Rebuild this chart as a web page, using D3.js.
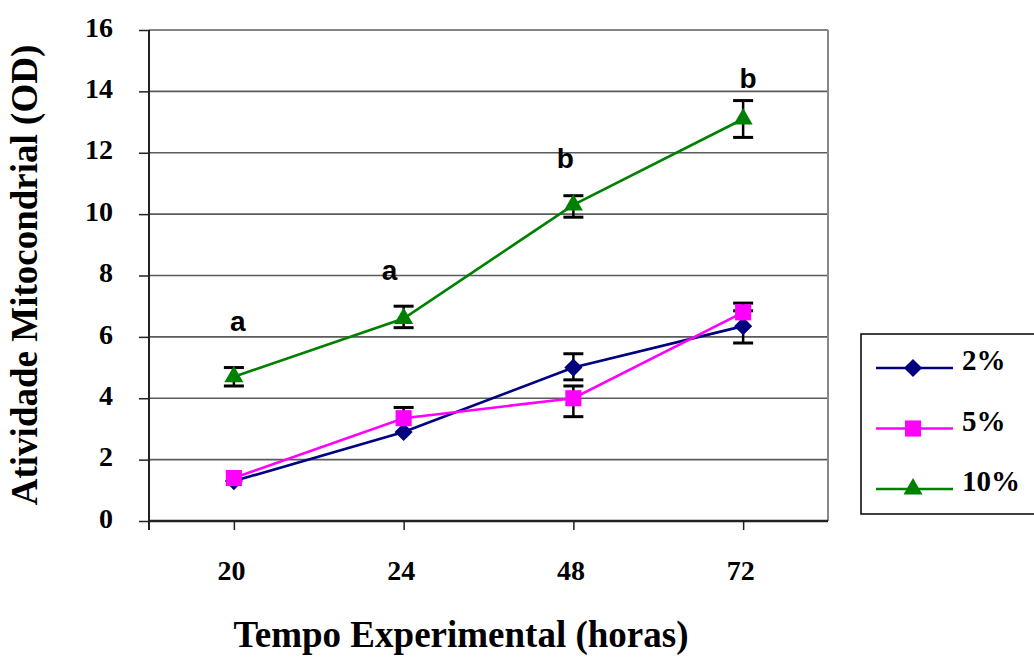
<!DOCTYPE html>
<html>
<head>
<meta charset="utf-8">
<script src="https://cdn.jsdelivr.net/npm/d3@7"></script>
<style>
  body { margin: 0; background: #fff; }
  svg { display: block; }
</style>
</head>
<body>
<div id="chart"></div>
<script>
// data
const categories = ["20", "24", "48", "72"];
const yTicks = [0, 2, 4, 6, 8, 10, 12, 14, 16];
const seriesNames = ["2%", "5%", "10%"];
const val2 = [1.3, 2.9, 5.0, 6.35];
const lo2 = [1.3, 2.9, 4.6, 5.8];
const hi2 = [1.3, 2.9, 5.45, 6.85];
const val5 = [1.4, 3.35, 4.0, 6.8];
const lo5 = [1.4, 3.35, 3.4, 6.8];
const hi5 = [1.4, 3.7, 4.4, 7.1];
const val10 = [4.7, 6.6, 10.3, 13.1];
const lo10 = [4.4, 6.3, 9.9, 12.5];
const hi10 = [5.0, 7.0, 10.6, 13.7];
const letters = ["a", "a", "b", "b"];
const letterVal = [6.2, 7.85, 11.5, 14.1];

const W = 1034, H = 659;
const mLeft = 149, mRight = 828, mTop = 30, mBottom = 521;
const serif = "Liberation Serif";

const svg = d3.select("#chart").append("svg")
  .attr("width", W).attr("height", H);

const x = d3.scalePoint().domain(categories).range([mLeft, mRight]).padding(0.5);
const y = d3.scaleLinear().domain([0, 16]).range([mBottom, mTop]);

// gridlines
svg.append("g").selectAll("line")
  .data(yTicks.filter(d => d > 0))
  .join("line")
  .attr("x1", mLeft).attr("x2", mRight)
  .attr("y1", d => y(d)).attr("y2", d => y(d))
  .attr("stroke", "#5a5a5a").attr("stroke-width", 1.6);

// right border
svg.append("line")
  .attr("x1", mRight).attr("x2", mRight).attr("y1", mTop).attr("y2", mBottom)
  .attr("stroke", "#888").attr("stroke-width", 2);

// y axis
const yAxis = d3.axisLeft(y).tickValues(yTicks).tickSize(10).tickPadding(26);
const gy = svg.append("g").attr("transform", "translate(" + mLeft + ",0)").call(yAxis);
gy.select(".domain").attr("d", "M0," + mTop + "V" + (mBottom + 9)).attr("stroke", "#222").attr("stroke-width", 2);
gy.selectAll(".tick line").attr("stroke", "#222").attr("stroke-width", 1.5);
gy.selectAll("text").style("font-family", serif).style("font-weight", "bold")
  .style("font-size", "28px").attr("fill", "#000").attr("dy", "0.22em");

// x axis
const xAxis = d3.axisBottom(x).tickSize(9).tickPadding(30);
const gx = svg.append("g").attr("transform", "translate(0," + mBottom + ")").call(xAxis);
gx.select(".domain").attr("d", "M" + mLeft + ",0H" + mRight).attr("stroke", "#222").attr("stroke-width", 2.5);
gx.selectAll(".tick line").attr("stroke", "#222").attr("stroke-width", 1.5);
gx.selectAll("text").style("font-family", serif).style("font-weight", "bold")
  .style("font-size", "28px").attr("fill", "#000").attr("dx", -3);

// axis titles
svg.append("text")
  .attr("transform", "translate(37,275) rotate(-90)")
  .attr("text-anchor", "middle")
  .style("font-family", serif).style("font-weight", "bold").style("font-size", "37px")
  .text("Atividade Mitocondrial (OD)");
svg.append("text")
  .attr("x", 461).attr("y", 647)
  .attr("text-anchor", "middle")
  .style("font-family", serif).style("font-weight", "bold").style("font-size", "37px")
  .text("Tempo Experimental (horas)");

const series = [
  { name: seriesNames[0], vals: val2, lo: lo2, hi: hi2, color: "#000080", shape: d3.symbolDiamond2, size: 210 },
  { name: seriesNames[1], vals: val5, lo: lo5, hi: hi5, color: "#ff00ff", shape: d3.symbolSquare, size: 260 },
  { name: seriesNames[2], vals: val10, lo: lo10, hi: hi10, color: "#008000", shape: d3.symbolTriangle2, size: 260 }
];

const line = d3.line()
  .x((d, i) => x(categories[i]))
  .y(d => y(d));

series.forEach(s => {
  const g = svg.append("g");
  // error bars
  categories.forEach((c, i) => {
    const cx = x(c);
    [s.hi[i], s.lo[i]].forEach(e => {
      if (e === s.vals[i]) return;
      g.append("line").attr("x1", cx).attr("x2", cx).attr("y1", y(s.vals[i])).attr("y2", y(e))
        .attr("stroke", "#000").attr("stroke-width", 2.5);
      g.append("line").attr("x1", cx - 10).attr("x2", cx + 10).attr("y1", y(e)).attr("y2", y(e))
        .attr("stroke", "#000").attr("stroke-width", 3);
    });
  });
  g.append("path").datum(s.vals).attr("d", line)
    .attr("fill", "none").attr("stroke", s.color).attr("stroke-width", 2.6);
  g.selectAll(".m").data(s.vals).join("path")
    .attr("transform", (d, i) => "translate(" + x(categories[i]) + "," + y(d) + ")")
    .attr("d", d3.symbol(s.shape, s.size))
    .attr("fill", s.color);
});

// significance letters
const letterDx = [4, -14, -8, 5];
svg.append("g").selectAll("text").data(letters).join("text")
  .attr("x", (d, i) => x(categories[i]) + letterDx[i])
  .attr("y", (d, i) => y(letterVal[i]))
  .attr("text-anchor", "middle")
  .style("font-family", "Liberation Sans").style("font-weight", "bold").style("font-size", "28px")
  .text(d => d);

// legend
const lg = svg.append("g");
lg.append("rect").attr("x", 861).attr("y", 334).attr("width", 180).attr("height", 180)
  .attr("fill", "#fff").attr("stroke", "#000").attr("stroke-width", 1.5);
series.forEach((s, i) => {
  const ly = 368 + i * 60.5;
  lg.append("line").attr("x1", 876).attr("x2", 953).attr("y1", ly).attr("y2", ly)
    .attr("stroke", s.color).attr("stroke-width", 2.6);
  lg.append("path").attr("transform", "translate(913," + ly + ")")
    .attr("d", d3.symbol(s.shape, s.size)).attr("fill", s.color);
  lg.append("text").attr("x", 962).attr("y", ly + 2)
    .style("font-family", serif).style("font-weight", "bold").style("font-size", "29px")
    .text(s.name);
});
</script>
</body>
</html>
